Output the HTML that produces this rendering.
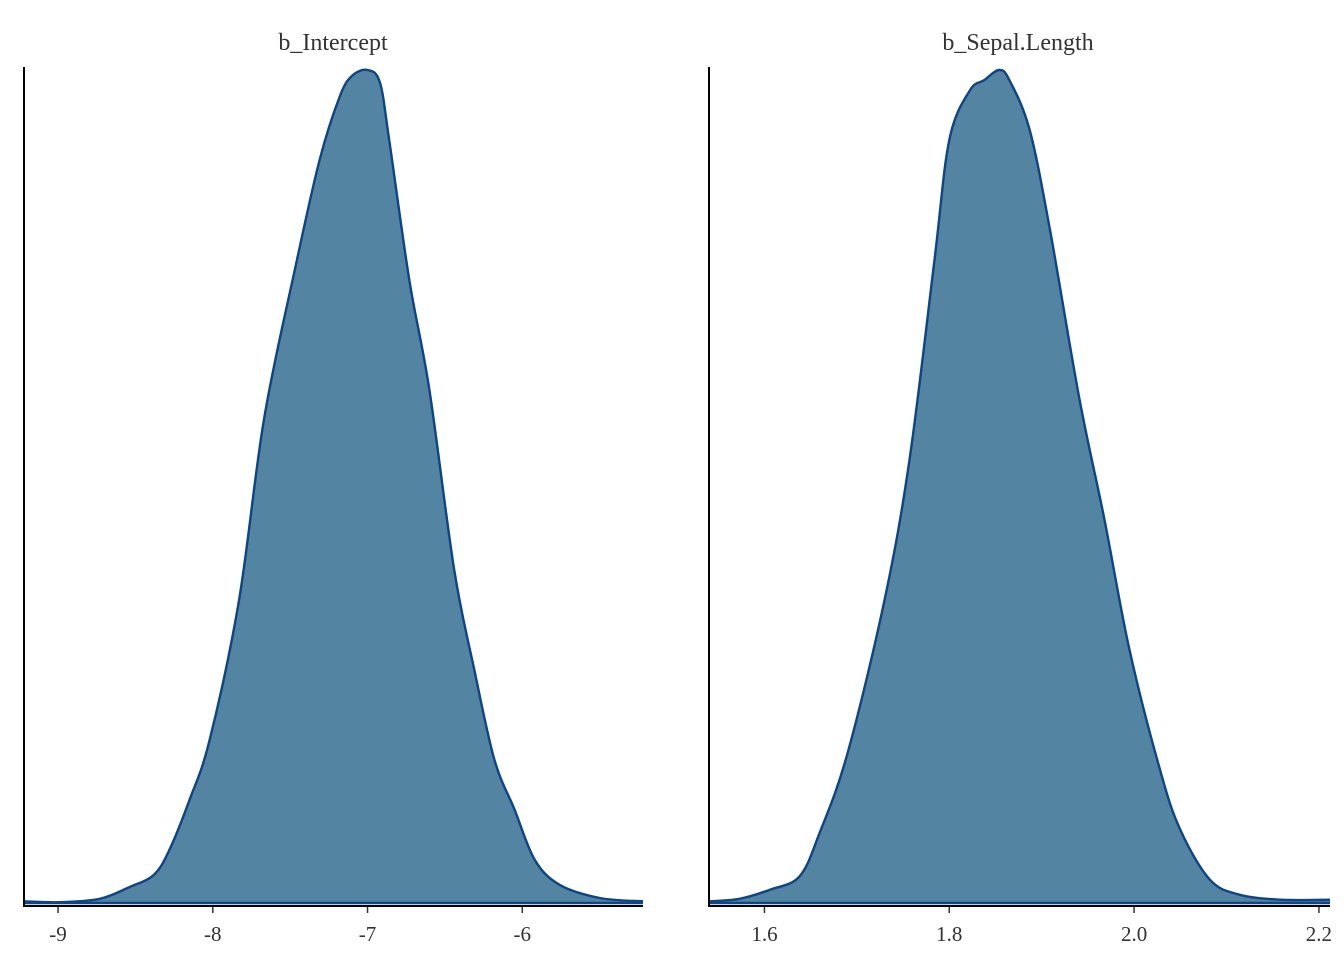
<!DOCTYPE html>
<html><head><meta charset="utf-8"><style>
html,body{margin:0;padding:0;background:#fff}
svg text{font-family:"Liberation Serif",serif;fill:#333}
</style></head><body>
<svg id="chart" width="1344" height="960" viewBox="0 0 1344 960" xmlns="http://www.w3.org/2000/svg">
<text x="333" y="50" font-size="24" text-anchor="middle" fill="#1a1a1a">b_Intercept</text>
<text x="1018" y="50" font-size="24" text-anchor="middle" fill="#1a1a1a">b_Sepal.Length</text>
<g id="p1"></g>
<g id="p2"></g>
</svg>
<script>
// Panel 1: b_Intercept
const xs1 = [-9.22,-8.99,-8.73,-8.54,-8.38,-8.28,-8.15,-8.02,-7.83,-7.67,-7.47,-7.31,-7.18,-7.10,-7.00,-6.92,-6.86,-6.73,-6.60,-6.44,-6.31,-6.18,-6.05,-5.92,-5.76,-5.50,-5.22];
const dens1 = [0.002,0.001,0.005,0.019,0.034,0.064,0.124,0.196,0.364,0.580,0.760,0.892,0.968,0.993,1.0,0.985,0.916,0.748,0.616,0.400,0.280,0.172,0.112,0.052,0.022,0.006,0.002];
const ticks1 = [-9,-8,-7,-6];
// Panel 2: b_Sepal.Length
const xs2 = [1.540,1.573,1.606,1.638,1.660,1.690,1.730,1.757,1.784,1.800,1.822,1.838,1.854,1.865,1.887,1.909,1.941,1.968,1.995,2.028,2.050,2.082,2.114,2.158,2.212];
const dens2 = [0.002,0.005,0.016,0.032,0.085,0.180,0.364,0.532,0.772,0.916,0.975,0.988,1.0,0.988,0.928,0.808,0.604,0.460,0.304,0.160,0.088,0.028,0.010,0.004,0.004];
const ticks2 = [1.6,1.8,2.0,2.2];
const tickLabels2 = ["1.6","1.8","2.0","2.2"];

const NS="http://www.w3.org/2000/svg";
function mk(tag,attrs,parent){const e=document.createElementNS(NS,tag);for(const k in attrs)e.setAttribute(k,attrs[k]);parent.appendChild(e);return e;}
function smooth(pts){let d="M"+pts[0][0]+","+pts[0][1];for(let i=0;i<pts.length-1;i++){const p0=pts[Math.max(0,i-1)],p1=pts[i],p2=pts[i+1],p3=pts[Math.min(pts.length-1,i+2)];const c1=[p1[0]+(p2[0]-p0[0])/6,p1[1]+(p2[1]-p0[1])/6];const c2=[p2[0]-(p3[0]-p1[0])/6,p2[1]-(p3[1]-p1[1])/6];d+=" C"+c1[0].toFixed(1)+","+c1[1].toFixed(1)+" "+c2[0].toFixed(1)+","+c2[1].toFixed(1)+" "+p2[0].toFixed(1)+","+p2[1].toFixed(1);}return d;}
function panel(g,xs,dens,ticks,labels,x0,x1,px0,px1){
  const sx=v=>px0+(v-x0)/(x1-x0)*(px1-px0);
  const base=903, top=70;
  const sy=v=>base-v*(base-top);
  const pts=xs.map((x,i)=>[sx(x),sy(dens[i])]);
  const line=smooth(pts);
  const area=mk('path',{d:line+" L"+pts[pts.length-1][0]+","+base+" L"+pts[0][0]+","+base+" Z",fill:"#5384a2",stroke:"none"},g);
  
  
  const ln=mk('path',{d:line,fill:"none",stroke:"#0d4585","stroke-width":2.4},g);
  
  
  const bl=mk('line',{x1:px0,x2:px1,y1:base,y2:base,stroke:"#0d4585","stroke-width":2.4},g);
  
  
  const ya=mk('line',{x1:px0,x2:px0,y1:67,y2:907,stroke:"#000","stroke-width":2},g);
  
  
  const xa=mk('line',{x1:px0-1,x2:px1,y1:906,y2:906,stroke:"#000","stroke-width":2},g);
  
  
  ticks.forEach((t,i)=>{
    const x=sx(t);
    const tk=mk('line',{x1:x,x2:x,y1:907,y2:913,stroke:"#333","stroke-width":1.5},g);
    
    
    const tx=mk('text',{x:x,y:941,"font-size":21,"text-anchor":"middle"},g);
    tx.textContent=labels[i];
    
    
  });
}
panel(document.getElementById('p1'),xs1,dens1,ticks1,ticks1.map(String),-9.22,-5.22,24,643);
panel(document.getElementById('p2'),xs2,dens2,ticks2,tickLabels2,1.540,2.212,709,1330);
</script>
</body></html>
